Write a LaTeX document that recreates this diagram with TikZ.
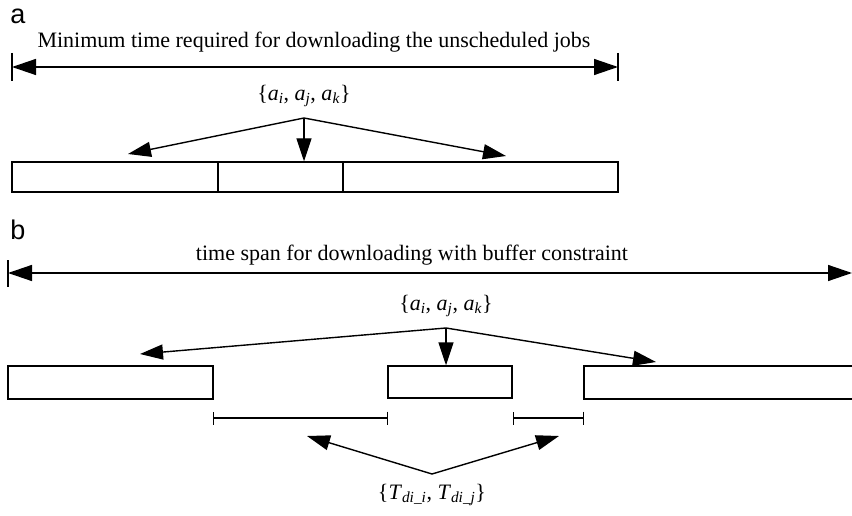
\documentclass[tikz,border=0pt]{standalone}
\usepackage{fontspec}
\setmainfont{Liberation Serif}
\newfontfamily\panelfont{Liberation Sans}
\usetikzlibrary{arrows.meta}
\tikzset{
  ln/.style={line width=1.4pt},
  bigtip/.tip={Triangle[length=24pt,width=16pt]},
  smarr/.style={ln,-{Triangle[length=23pt,width=15pt]}},
  box/.style={draw,ln,inner sep=0pt,anchor=center},
  txt/.style={font=\fontsize{22}{26}\selectfont,inner sep=0pt},
  panel/.style={font=\panelfont\fontsize{27}{30}\selectfont,inner sep=0pt},
}
\begin{document}
\begin{tikzpicture}[x=1pt,y=-1pt]
\useasboundingbox (0,0) rectangle (852,516);
\clip (0,0) rectangle (852,516);
% panel a
\node[panel] (pa) at (18,16) {a};
\node[txt] (ta) at (314,42) {Minimum time required for downloading the unscheduled jobs};
\coordinate (aL) at (12,67);
\coordinate (aR) at (618,67);
\draw[ln] (12,53) -- (12,81);
\draw[ln] (618,53) -- (618,81);
\draw[ln,bigtip-bigtip] (aL) -- (aR);
\node[txt] (sa) at (304,96) {\{\textit{a}\textsubscript{\textit{i}}, \textit{a}\textsubscript{\textit{j}}, \textit{a}\textsubscript{\textit{k}}\}};
\coordinate (apa) at (304,118);
\node[box,minimum width=206pt,minimum height=30pt] (a1) at (115,177) {};
\node[box,minimum width=125pt,minimum height=30pt] (a2) at (280.5,177) {};
\node[box,minimum width=275pt,minimum height=30pt] (a3) at (480.5,177) {};
\coordinate (a1t) at (128,154);
\coordinate (a3t) at (506,156);
\draw[smarr] (apa) -- (a1t);
\draw[smarr] (apa) -- (apa |- a2.north);
\draw[smarr] (apa) -- (a3t);
% panel b
\node[panel] (pb) at (18,230) {b};
\node[txt] (tb) at (412,255) {time span for downloading with buffer constraint};
\coordinate (bL) at (8,273);
\coordinate (bR) at (852,273);
\draw[ln] (8,260) -- (8,287);
\draw[ln,bigtip-bigtip] (bL) -- (bR);
\node[txt] (sb) at (446,306) {\{\textit{a}\textsubscript{\textit{i}}, \textit{a}\textsubscript{\textit{j}}, \textit{a}\textsubscript{\textit{k}}\}};
\coordinate (apb) at (446,328);
\node[box,minimum width=205pt,minimum height=33pt] (b1) at (110.5,382.5) {};
\node[box,minimum width=124pt,minimum height=32pt] (b2) at (450,382) {};
\node[box,minimum width=300pt,minimum height=33pt] (b3) at (734,382.5) {};
\coordinate (b1t) at (140,354);
\coordinate (b3t) at (656,362);
\draw[smarr] (apb) -- (b1t);
\draw[smarr] (apb) -- (apb |- b2.north);
\draw[smarr] (apb) -- (b3t);
% gaps
\coordinate (g1a) at (213,418);
\coordinate (g1b) at (388,418);
\coordinate (g2a) at (513,418);
\coordinate (g2b) at (584,418);
\draw[ln,{Bar[width=13pt]}-{Bar[width=13pt]}] (g1a) -- (g1b);
\draw[ln,{Bar[width=13pt]}-{Bar[width=13pt]}] (g2a) -- (g2b);
\coordinate (apc) at (432,474);
\coordinate (c1) at (307,436);
\coordinate (c2) at (559,436);
\draw[smarr] (apc) -- (c1);
\draw[smarr] (apc) -- (c2);
\node[txt] (st) at (432,495) {\{\textit{T}\textsubscript{\textit{di\_i}}, \textit{T}\textsubscript{\textit{di\_j}}\}};
\end{tikzpicture}
\end{document}
